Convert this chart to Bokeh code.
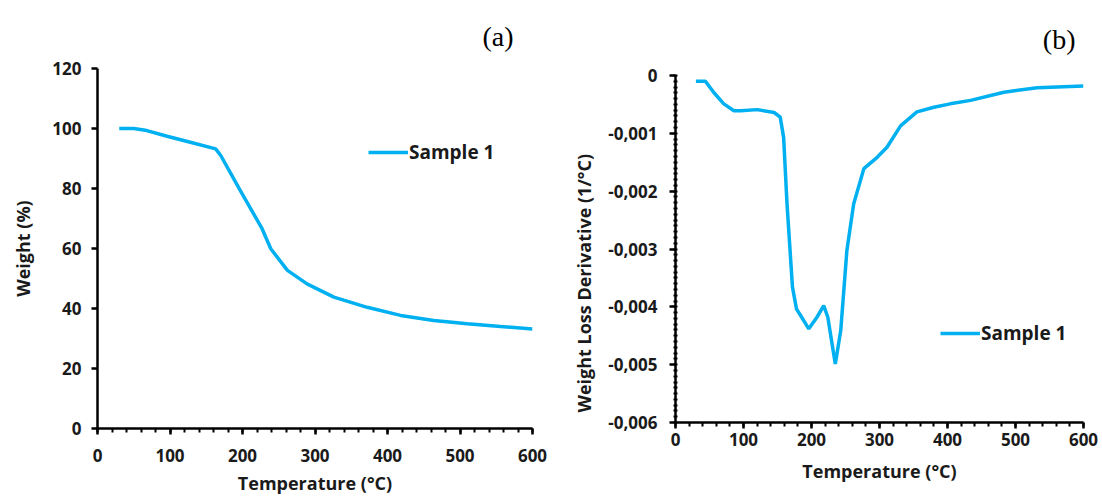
from bokeh.plotting import figure
from bokeh.layouts import row, column
from bokeh.models import Range1d, SingleIntervalTicker, CustomJSTickFormatter, Title
from bokeh.embed import file_html
from bokeh.resources import INLINE

# ---- data (a): TGA weight curve ----
temp_a = [30, 50, 68, 96, 128, 163, 170, 197, 227, 239, 262, 289, 326, 372, 418, 464, 510, 556, 600]
weight_a = [100.0, 100.0, 99.3, 97.4, 95.4, 93.2, 91.0, 79.3, 66.6, 59.9, 52.7, 48.2, 43.8, 40.4, 37.7, 36.0, 34.9, 34.0, 33.2]

# ---- data (b): DTG derivative curve ----
temp_b = [30, 44, 56, 71, 86, 96, 120, 145, 154, 159, 164, 172, 178, 184, 196, 208, 218, 224, 235,
          243, 252, 262, 277, 297, 311, 331, 355, 380, 404, 434, 483, 532, 600]
deriv_b = [-0.0001, -0.0001, -0.00029, -0.00049, -0.00061, -0.00061, -0.00059, -0.00064, -0.00072,
           -0.00107, -0.00222, -0.00366, -0.00404, -0.00415, -0.00438, -0.00418, -0.00398, -0.00418,
           -0.00499, -0.00441, -0.00303, -0.00222, -0.00161, -0.00141, -0.00124, -0.00087, -0.00063,
           -0.00055, -0.00049, -0.00043, -0.00029, -0.00021, -0.00018]

series_name = "Sample 1"
x_title = "Temperature (°C)"
y_title_a = "Weight (%)"
y_title_b = "Weight Loss Derivative (1/°C)"
panel_a = "(a)"
panel_b = "(b)"
LINE = "#00B0F0"
FONT = "Open Sans"
TXT = "#1a1a1a"


def style(p):
    p.xgrid.visible = False
    p.ygrid.visible = False
    p.outline_line_color = None
    p.background_fill_color = "white"
    for ax in (p.xaxis[0], p.yaxis[0]):
        ax.axis_line_width = 2.5
        ax.axis_line_color = "black"
        ax.major_tick_line_width = 2.5
        ax.major_tick_line_color = "black"
        ax.minor_tick_line_width = 2
        ax.minor_tick_line_color = "black"
        ax.major_tick_in = 0
        ax.major_tick_out = 6
        ax.major_label_text_font = FONT
        ax.major_label_text_font_style = "bold"
        ax.major_label_text_font_size = "17px"
        ax.major_label_text_color = TXT
        ax.axis_label_text_font = FONT
        ax.axis_label_text_font_style = "bold"
        ax.axis_label_text_font_size = "18px"
        ax.axis_label_text_color = TXT
    p.xaxis[0].minor_tick_in = 0
    p.xaxis[0].minor_tick_out = 4


def style_legend(p, loc):
    lg = p.legend[0]
    lg.location = loc
    lg.background_fill_alpha = 0
    lg.border_line_color = None
    lg.padding = 0
    lg.margin = 0
    lg.glyph_width = 40
    lg.label_standoff = 1
    lg.label_text_font = FONT
    lg.label_text_font_style = "bold"
    lg.label_text_font_size = "19px"
    lg.label_text_color = TXT


def style_title(p, text_offset, standoff):
    p.title.text_font = "Liberation Serif"
    p.title.text_font_style = "normal"
    p.title.text_font_size = "28px"
    p.title.align = "right"
    p.title.offset = text_offset
    p.title.standoff = standoff
    p.title.text_color = "black"


# ---- figure (a) ----
p1 = figure(width=560, height=497, output_backend="svg", toolbar_location=None,
            x_range=Range1d(0, 600), y_range=Range1d(0, 120), title=panel_a,
            min_border_left=97, min_border_right=28, min_border_top=68, min_border_bottom=69)
p1.line(temp_a, weight_a, line_color=LINE, line_width=3.5, legend_label=series_name)
style(p1)
p1.xaxis[0].ticker = SingleIntervalTicker(interval=100, num_minor_ticks=5)
p1.yaxis[0].ticker = SingleIntervalTicker(interval=20, num_minor_ticks=0)
p1.xaxis[0].axis_label = x_title
p1.yaxis[0].axis_label = y_title_a
p1.xaxis[0].major_label_standoff = 14
p1.xaxis[0].axis_label_standoff = 6
p1.yaxis[0].major_label_standoff = 10
p1.yaxis[0].axis_label_standoff = 14
style_legend(p1, (271, 263))
style_title(p1, 19, 34)

# ---- figure (b) ----
p2 = figure(width=542, height=497, output_backend="svg", toolbar_location=None,
            x_range=Range1d(0, 600), y_range=Range1d(-0.006, 0), title=panel_b,
            min_border_left=115, min_border_right=19, min_border_top=75, min_border_bottom=75)
p2.line(temp_b, deriv_b, line_color=LINE, line_width=3.5, legend_label=series_name)
style(p2)
p2.xaxis[0].ticker = SingleIntervalTicker(interval=100, num_minor_ticks=5)
p2.yaxis[0].ticker = SingleIntervalTicker(interval=0.001, num_minor_ticks=10)
p2.yaxis[0].minor_tick_in = 2
p2.yaxis[0].minor_tick_out = 2
p2.yaxis[0].formatter = CustomJSTickFormatter(
    code="if (Math.abs(tick) < 1e-12) { return '0'; } return tick.toFixed(3).replace('.', ',');")
p2.xaxis[0].axis_label = x_title
p2.xaxis[0].major_label_standoff = 4
p2.xaxis[0].axis_label_standoff = 10
p2.yaxis[0].major_label_standoff = 12
p2.add_layout(Title(text=y_title_b, align="left", offset=10, standoff=19,
                    text_font=FONT, text_font_style="bold", text_font_size="18px",
                    text_color=TXT), "left")
style_legend(p2, (265, 76))
style_title(p2, 8, 41)

layout = row(p1, column(p2))
open("out.html", "w").write(file_html(layout, INLINE))
